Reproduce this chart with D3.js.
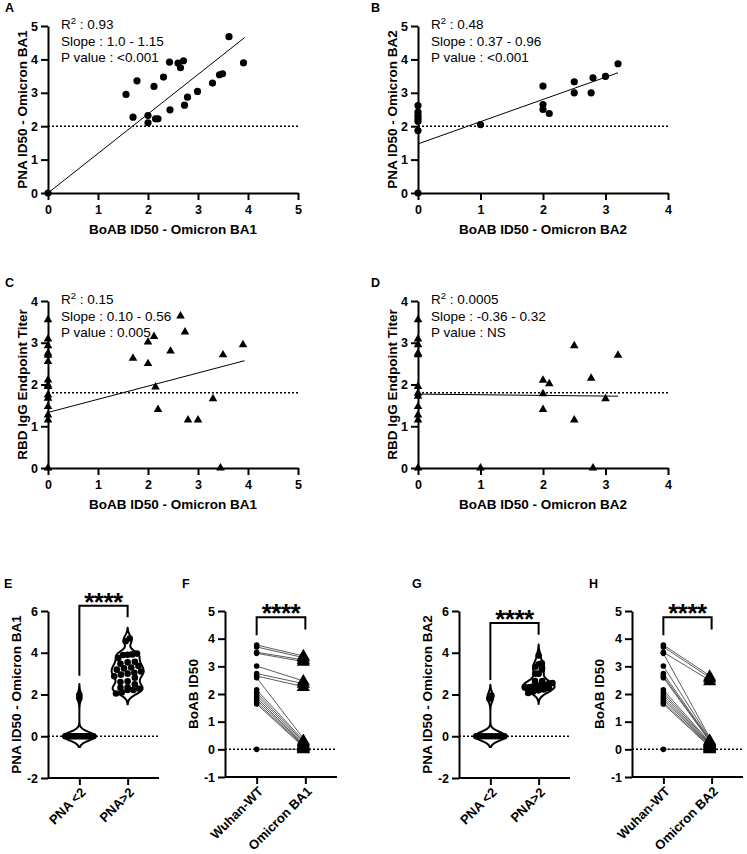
<!DOCTYPE html>
<html>
<head>
<meta charset="utf-8">
<script src="https://cdn.jsdelivr.net/npm/d3@7"></script>
<style>
  body { margin: 0; background: #fff; }
  text { fill: #000; }
</style>
</head>
<body>
<script>
const W = 747
const H = 854
const font = '"Liberation Sans", Arial, Helvetica, sans-serif'

// ---- panel A : BoAB vs PNA, BA1
const boabA = [0, 1.56, 1.70, 1.78, 2.0, 2.0, 2.12, 2.15, 2.2, 2.31, 2.43, 2.44, 2.6, 2.65, 2.71, 2.73, 2.79, 2.99, 3.29, 3.43, 3.49, 3.62, 3.91]
const pnaA = [0, 2.95, 2.27, 3.36, 2.32, 2.1, 3.19, 2.22, 2.22, 3.47, 3.92, 2.49, 3.89, 3.75, 3.96, 2.63, 2.87, 3.04, 3.29, 3.54, 3.57, 4.68, 3.9]
const fitA = { x: [0, 3.93], y: [0, 4.65] }
const statsA = ['0.93', '1.0 - 1.15', '<0.001']

// ---- panel B : BoAB vs PNA, BA2
const boabB = [0, 0, 0, 0, 0, 0, 0, 1.0, 2.0, 2.0, 2.0, 2.1, 2.5, 2.5, 2.8, 2.77, 3.0, 3.2]
const pnaB = [2.62, 2.42, 2.32, 2.24, 2.15, 1.87, 0, 2.05, 3.2, 2.65, 2.5, 2.38, 3.33, 3.0, 3.45, 3.0, 3.49, 3.87]
const fitB = { x: [0, 3.2], y: [1.47, 3.6] }
const statsB = ['0.48', '0.37 - 0.96', '<0.001']

// ---- panel C : BoAB vs RBD IgG, BA1
const boabC = [0, 0, 0, 0, 0, 0, 0, 0, 0, 0, 0, 0, 0, 0, 0,
  1.7, 2.0, 2.0, 2.12, 2.15, 2.2, 2.45, 2.65, 2.74, 2.8, 3.0, 3.3, 3.45, 3.5, 3.9]
const rbdC = [3.55, 3.09, 2.93, 2.75, 2.7, 2.55, 2.11, 1.99, 1.95, 1.75, 1.67, 1.47, 1.27, 1.15, 0,
  2.63, 3.02, 2.5, 3.15, 1.94, 1.4, 2.8, 3.64, 3.26, 1.15, 1.15, 1.66, 0, 2.71, 2.95]
const fitC = { x: [0, 3.93], y: [1.33, 2.57] }
const statsC = ['0.15', '0.10 - 0.56', '0.005']

// ---- panel D : BoAB vs RBD IgG, BA2
const boabD = [0, 0, 0, 0, 0, 0, 0, 0, 0, 0, 0, 0,
  1.0, 2.0, 2.1, 2.0, 2.0, 2.5, 2.5, 2.77, 2.8, 3.0, 3.2]
const rbdD = [3.55, 3.09, 2.95, 2.75, 2.71, 1.95, 1.79, 1.72, 1.47, 1.27, 1.15, 0,
  0, 2.1, 2.02, 1.78, 1.4, 2.93, 1.15, 2.15, 0, 1.66, 2.7]
const fitD = { x: [0, 3.2], y: [1.77, 1.72] }
const statsD = ['0.0005', '-0.36 - 0.32', 'NS']

// ---- panels E / G : violins
const pnaGroups = ['PNA <2', 'PNA>2']
const eLow = [0, 0, 0, 0, 0, 0, 0, 0, 0, 0, 0, 0, 0, 0, 0, 0, 1.82, 1.98]
const eHigh = [2.95, 2.27, 3.36, 2.32, 2.10, 3.19, 2.22, 2.22, 3.47, 3.92, 2.49, 3.89, 3.75, 3.96, 2.63,
  2.87, 3.04, 3.29, 3.54, 3.57, 4.68, 3.90, 2.05, 2.35, 2.60, 2.80, 3.10, 3.25, 3.00, 4.55]
const gLow = [0, 0, 0, 0, 0, 0, 0, 0, 0, 0, 1.80, 1.95]
const gHigh = [2.65, 2.46, 2.34, 2.24, 2.14, 2.07, 3.20, 2.65, 2.50, 2.38, 3.33, 3.00, 3.45, 3.00, 3.49,
  3.87, 2.30, 2.40, 2.20, 2.35, 2.55, 2.45]

// ---- panels F / H : before-after
const wuhan = [3.77, 3.70, 3.51, 3.47, 3.01, 2.74, 2.65, 2.59, 2.15, 2.05, 1.96, 1.87, 1.79, 1.70, 1.64, 0]
const omicronBA1 = [3.36, 3.30, 3.22, 3.16, 2.45, 2.36, 2.25, 0.30, 0.25, 0.20, 0.15, 0.10, 0.08, 0.05, 0.02, 0]
const omicronBA2 = [2.62, 2.55, 2.45, 0.30, 0.28, 0.25, 0.22, 0.20, 0.18, 0.15, 0.12, 0.10, 0.08, 0.05, 0.02, 0]

const svg = d3.select('body').append('svg').attr('width', W).attr('height', H)

function styleAxis(sel) {
  sel.attr('font-family', font).attr('font-size', 12.5).attr('font-weight', 'bold')
  sel.selectAll('path, line').attr('stroke', '#000').attr('stroke-width', 2)
  sel.selectAll('text').attr('fill', '#000')
}

function letter(txt, x, y) {
  svg.append('text').text(txt).attr('x', x).attr('y', y)
    .attr('font-family', font).attr('font-weight', 'bold').attr('font-size', 12.5)
}

function yTitle(g, txt, x, cy) {
  g.append('text').text(txt)
    .attr('transform', `translate(${x},${cy}) rotate(-90)`)
    .attr('text-anchor', 'middle')
    .attr('font-family', font).attr('font-weight', 'bold').attr('font-size', 13.5)
}

// ---------- scatter panels ----------
const scatterPanels = [
  { letter: 'A', lx: 5, ly: 12, left: 48, right: 298, top: 26, bottom: 193, xMax: 5, yMax: 5,
    xs: boabA, ys: pnaA, fit: fitA, th: 2, stats: statsA, sym: 'circle',
    xTitle: 'BoAB ID50 - Omicron BA1', yTitle: 'PNA ID50 - Omicron BA1' },
  { letter: 'B', lx: 371, ly: 12, left: 418, right: 668, top: 26, bottom: 193, xMax: 4, yMax: 5,
    xs: boabB, ys: pnaB, fit: fitB, th: 2, stats: statsB, sym: 'circle',
    xTitle: 'BoAB ID50 - Omicron BA2', yTitle: 'PNA ID50 - Omicron BA2' },
  { letter: 'C', lx: 5, ly: 287, left: 48, right: 298, top: 301, bottom: 468, xMax: 5, yMax: 4,
    xs: boabC, ys: rbdC, fit: fitC, th: 1.8, stats: statsC, sym: 'triangle',
    xTitle: 'BoAB ID50 - Omicron BA1', yTitle: 'RBD IgG Endpoint Titer' },
  { letter: 'D', lx: 371, ly: 287, left: 418, right: 668, top: 301, bottom: 468, xMax: 4, yMax: 4,
    xs: boabD, ys: rbdD, fit: fitD, th: 1.8, stats: statsD, sym: 'triangle',
    xTitle: 'BoAB ID50 - Omicron BA2', yTitle: 'RBD IgG Endpoint Titer' },
]

for (const p of scatterPanels) {
  const g = svg.append('g')
  const x = d3.scaleLinear([0, p.xMax], [p.left, p.right])
  const y = d3.scaleLinear([0, p.yMax], [p.bottom, p.top])

  // threshold
  g.append('line')
    .attr('x1', x(0)).attr('x2', x(p.xMax)).attr('y1', y(p.th)).attr('y2', y(p.th))
    .attr('stroke', '#000').attr('stroke-width', 1.5).attr('stroke-dasharray', '2,2')

  // regression
  const fitPts = p.fit.x.map((v, i) => [v, p.fit.y[i]])
  g.append('path')
    .attr('d', d3.line().x((d) => x(d[0])).y((d) => y(d[1]))(fitPts))
    .attr('stroke', '#000').attr('stroke-width', 1).attr('fill', 'none')

  g.append('g').attr('transform', `translate(0,${p.bottom})`)
    .call(d3.axisBottom(x).ticks(p.xMax).tickSize(7).tickSizeOuter(0).tickPadding(5).tickFormat((d) => String(d)))
    .call(styleAxis)
  g.append('g').attr('transform', `translate(${p.left},0)`)
    .call(d3.axisLeft(y).ticks(p.yMax).tickSize(7).tickSizeOuter(0).tickPadding(3).tickFormat((d) => String(d)))
    .call(styleAxis)

  const pts = p.xs.map((v, i) => ({ x: v, y: p.ys[i] }))
  if (p.sym === 'circle') {
    g.append('g').selectAll('circle').data(pts).join('circle')
      .attr('cx', (d) => x(d.x)).attr('cy', (d) => y(d.y)).attr('r', 3.6).attr('fill', '#000')
  } else {
    g.append('g').selectAll('path').data(pts).join('path')
      .attr('d', d3.symbol(d3.symbolTriangle, 32))
      .attr('transform', (d) => `translate(${x(d.x)},${y(d.y)})`).attr('fill', '#000')
  }

  // stats text
  const st = g.append('g').attr('font-family', font).attr('font-size', 13.5)
  const t0 = st.append('text').attr('x', p.left + 13).attr('y', p.top + 3)
  t0.append('tspan').text('R')
  t0.append('tspan').text('2').attr('font-size', 9.5).attr('dy', -5.5)
  t0.append('tspan').text(' : ' + p.stats[0]).attr('dy', 5.5)
  st.append('text').attr('x', p.left + 13).attr('y', p.top + 19.5).text('Slope : ' + p.stats[1])
  st.append('text').attr('x', p.left + 13).attr('y', p.top + 36).text('P value : ' + p.stats[2])

  g.append('text').text(p.xTitle)
    .attr('x', (p.left + p.right) / 2).attr('y', p.bottom + 41).attr('text-anchor', 'middle')
    .attr('font-family', font).attr('font-weight', 'bold').attr('font-size', 13.5)
  yTitle(g, p.yTitle, p.left - 21, (p.top + p.bottom) / 2)
  letter(p.letter, p.lx, p.ly)
}

// ---------- shared bits for lower panels ----------
function catAxes(g, p, x, y) {
  g.append('line')
    .attr('x1', p.left).attr('x2', p.right).attr('y1', y(0)).attr('y2', y(0))
    .attr('stroke', '#000').attr('stroke-width', 1.5).attr('stroke-dasharray', '2,2')
  g.append('g').attr('transform', `translate(0,${p.bottom})`)
    .call(d3.axisBottom(x).tickSize(7).tickSizeOuter(0).tickFormat(''))
    .call(styleAxis)
    .call((a) => a.select('.domain').attr('d', `M${p.left},0H${p.right}`))
  g.append('g').attr('transform', `translate(${p.left},0)`)
    .call(d3.axisLeft(y).tickValues(p.ticks).tickSize(7).tickSizeOuter(0).tickPadding(3).tickFormat((d) => String(d)))
    .call(styleAxis)
  g.selectAll('text.cat').data(p.cats).join('text').attr('class', 'cat')
    .text((d) => d)
    .attr('transform', (d) => `translate(${x(d) + 4},${p.bottom + 12}) rotate(-45)`)
    .attr('text-anchor', 'end').attr('dy', '0.35em')
    .attr('font-family', font).attr('font-weight', 'bold').attr('font-size', 13)
  // significance bracket
  const [a, b] = p.cats
  const [lEnd, level, rEnd] = p.bracket
  g.append('path')
    .attr('d', `M${x(a)},${y(lEnd)}V${y(level)}H${x(b)}V${y(rEnd)}`)
    .attr('fill', 'none').attr('stroke', '#000').attr('stroke-width', 2)
  g.append('text').text('****')
    .attr('x', (x(a) + x(b)) / 2).attr('y', y(level) + 5).attr('text-anchor', 'middle')
    .attr('font-family', font).attr('font-weight', 'bold').attr('font-size', 26).attr('letter-spacing', -0.5)
  yTitle(g, p.yTitle, p.titleX, (p.top + p.bottom) / 2)
  letter(p.letter, p.lx, 588)
}

// ---------- violins ----------
const violinPanels = [
  { letter: 'E', lx: 4, left: 48, right: 159, top: 611, bottom: 778, yMin: -2, yMax: 6, ticks: [-2, 0, 2, 4, 6],
    cats: pnaGroups, groups: [eLow, eHigh], bracket: [2.9, 6.25, 5.7], yTitle: 'PNA ID50 - Omicron BA1', titleX: 21 },
  { letter: 'G', lx: 412, left: 459, right: 570, top: 611, bottom: 778, yMin: -2, yMax: 6, ticks: [-2, 0, 2, 4, 6],
    cats: pnaGroups, groups: [gLow, gHigh], bracket: [2.7, 5.43, 4.86], yTitle: 'PNA ID50 - Omicron BA2', titleX: 432 },
]

const bw = 0.2
const halfMax = 16
const dotR = 3.3

for (const p of violinPanels) {
  const g = svg.append('g')
  const x = d3.scalePoint().domain(p.cats).range([p.left, p.right]).padding(0.65)
  const y = d3.scaleLinear([p.yMin, p.yMax], [p.bottom, p.top])
  catAxes(g, p, x, y)

  p.groups.forEach((vals, gi) => {
    const cx = x(p.cats[gi])
    const dens = (t) => d3.sum(vals, (v) => Math.exp(-0.5 * ((t - v) / bw) ** 2))
    const lo = d3.min(vals) - 2.6 * bw
    const hi = d3.max(vals) + 2.6 * bw
    const grid = d3.range(0, 121).map((i) => lo + ((hi - lo) * i) / 120)
    const maxD = d3.max(grid, dens)
    const half = (t) => (t < lo || t > hi ? 0 : (dens(t) / maxD) * halfMax)

    g.append('path')
      .attr('d', d3.area().x0((t) => cx - half(t)).x1((t) => cx + half(t)).y((t) => y(t)).curve(d3.curveBasis)(grid))
      .attr('fill', '#fff').attr('stroke', '#000').attr('stroke-width', 2).attr('stroke-linejoin', 'round')

    // lay the dots out in rows inside the violin
    const sorted = vals.slice().sort(d3.ascending)
    const rows = []
    for (const v of sorted) {
      const last = rows[rows.length - 1]
      if (last && y(last[0]) - y(v) < dotR * 1.6) last.push(v)
      else rows.push([v])
    }
    const dots = []
    for (const row of rows) {
      const n = row.length
      const avail = Math.max(0, half(d3.mean(row)) - dotR * 0.6)
      const step = n > 1 ? Math.min(2 * dotR + 0.6, (2 * avail) / (n - 1)) : 0
      row.forEach((v, i) => dots.push({ v, dx: (i - (n - 1) / 2) * step }))
    }
    g.append('g').selectAll('circle').data(dots).join('circle')
      .attr('cx', (d) => cx + d.dx).attr('cy', (d) => y(d.v)).attr('r', dotR).attr('fill', '#000')
  })
}

// ---------- before / after ----------
const pairedPanels = [
  { letter: 'F', lx: 182, left: 225, right: 337, top: 611, bottom: 777, yMin: -1, yMax: 5, ticks: [-1, 0, 1, 2, 3, 4, 5],
    cats: ['Wuhan-WT', 'Omicron BA1'], before: wuhan, after: omicronBA1, bracket: [4.12, 4.77, 4.33], yTitle: 'BoAB ID50', titleX: 198 },
  { letter: 'H', lx: 589, left: 632, right: 743, top: 611, bottom: 777, yMin: -1, yMax: 5, ticks: [-1, 0, 1, 2, 3, 4, 5],
    cats: ['Wuhan-WT', 'Omicron BA2'], before: wuhan, after: omicronBA2, bracket: [4.12, 4.77, 4.33], yTitle: 'BoAB ID50', titleX: 604 },
]

for (const p of pairedPanels) {
  const g = svg.append('g')
  const x = d3.scalePoint().domain(p.cats).range([p.left, p.right]).padding(0.65)
  const y = d3.scaleLinear([p.yMin, p.yMax], [p.bottom, p.top])
  catAxes(g, p, x, y)
  const pairs = p.before.map((v, i) => ({ a: v, b: p.after[i] }))
  const xa = x(p.cats[0])
  const xb = x(p.cats[1])
  g.append('g').selectAll('line').data(pairs).join('line')
    .attr('x1', xa).attr('y1', (d) => y(d.a)).attr('x2', xb).attr('y2', (d) => y(d.b))
    .attr('stroke', '#333').attr('stroke-width', 0.8)
  g.append('g').selectAll('circle').data(pairs).join('circle')
    .attr('cx', xa).attr('cy', (d) => y(d.a)).attr('r', 2.8).attr('fill', '#000')
  g.append('g').selectAll('path').data(pairs).join('path')
    .attr('d', d3.symbol(d3.symbolTriangle, 75))
    .attr('transform', (d) => `translate(${xb - 2},${y(d.b)})`).attr('fill', '#000')
}
</script>
</body>
</html>
